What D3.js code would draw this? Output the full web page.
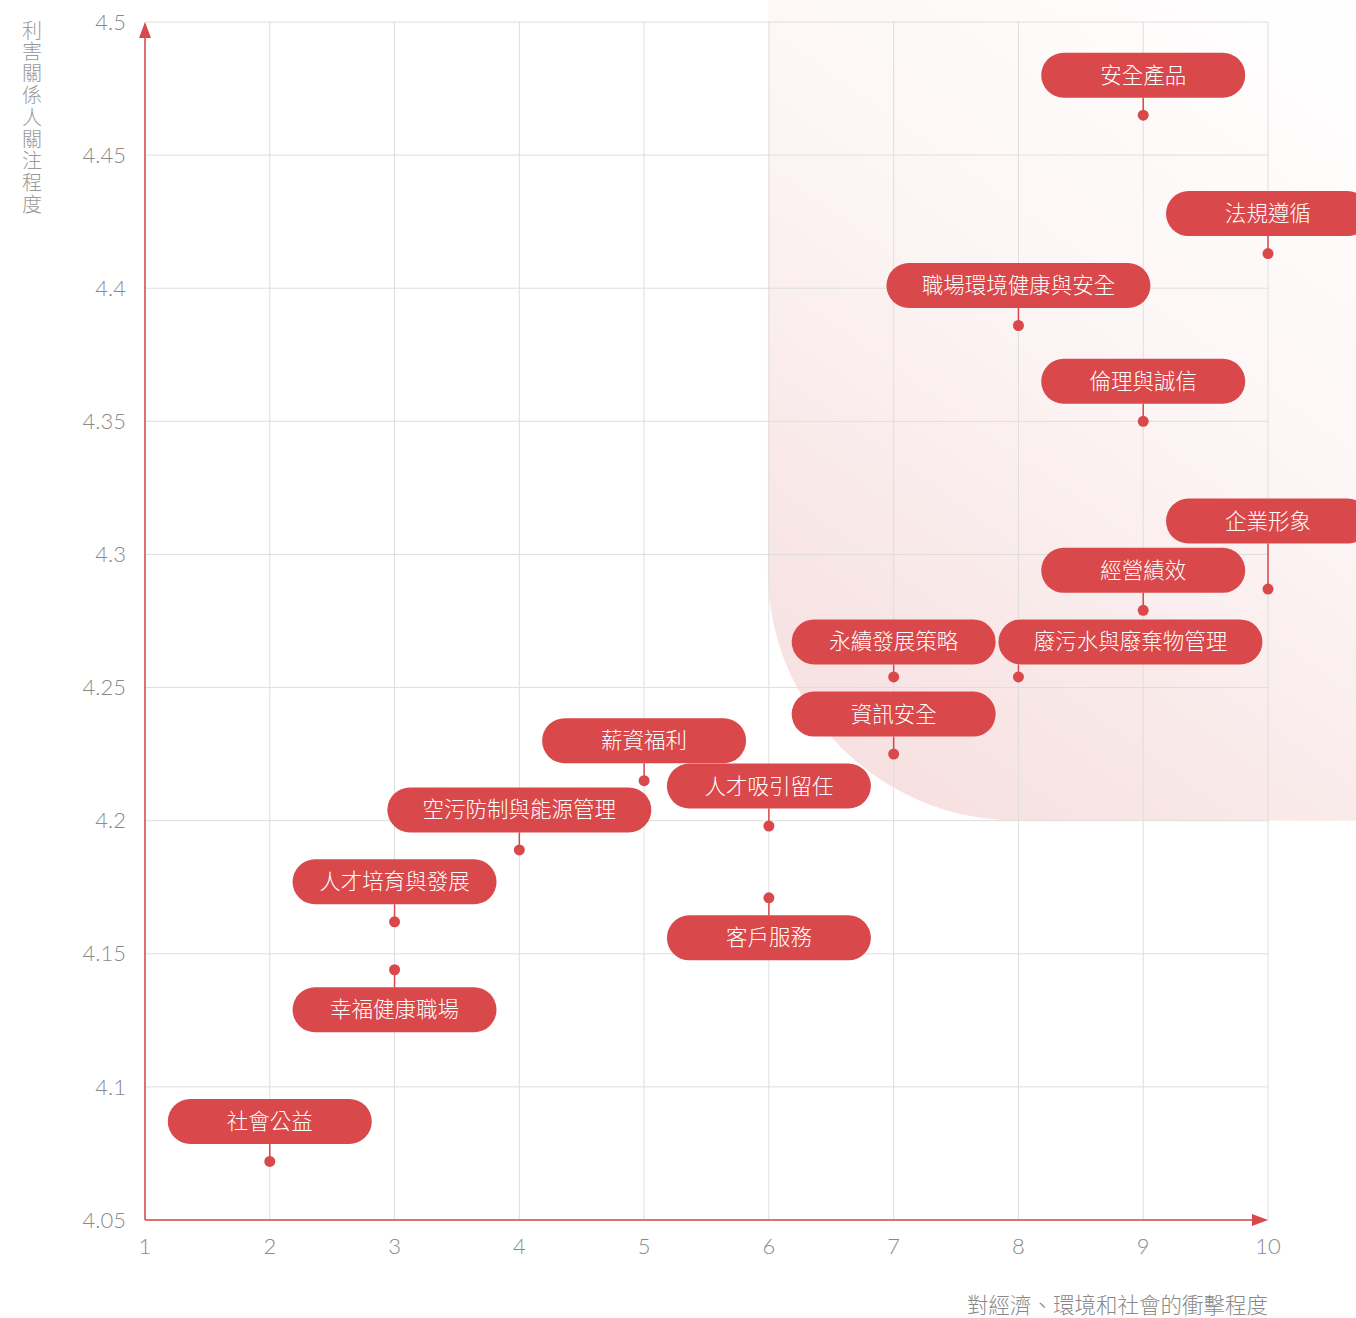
<!DOCTYPE html>
<html>
<head>
<meta charset="utf-8">
<script src="https://cdn.jsdelivr.net/npm/d3@7"></script>
<style>
  body { margin: 0; background: #fff; }
  svg { display: block; }
</style>
</head>
<body>
<div id="chart"></div>
<script>
// material topics
var topics = [
  "安全產品", "法規遵循", "職場環境健康與安全", "倫理與誠信", "企業形象",
  "經營績效", "永續發展策略", "廢污水與廢棄物管理", "資訊安全", "薪資福利",
  "人才吸引留任", "空污防制與能源管理", "人才培育與發展", "客戶服務",
  "幸福健康職場", "社會公益"
]
// 對經濟、環境和社會的衝擊程度
var impact = [9, 10, 8, 9, 10, 9, 7, 8, 7, 5, 6, 4, 3, 6, 3, 2]
// 利害關係人關注程度
var concern = [4.465, 4.413, 4.386, 4.350, 4.287, 4.279, 4.254, 4.254,
               4.225, 4.215, 4.198, 4.189, 4.162, 4.171, 4.144, 4.072]
// labels drawn under the point instead of above
var labelBelow = ["客戶服務", "幸福健康職場"]

var xTicks = [1, 2, 3, 4, 5, 6, 7, 8, 9, 10]
var yTicks = [4.05, 4.1, 4.15, 4.2, 4.25, 4.3, 4.35, 4.4, 4.45, 4.5]
var xTitle = "對經濟、環境和社會的衝擊程度"
var yTitle = "利害關係人關注程度"

var W = 1356, H = 1318
var red = "#d9484a"

var x = d3.scaleLinear().domain([1, 10]).range([145, 1268])
var y = d3.scaleLinear().domain([4.05, 4.5]).range([1220, 22])

var svg = d3.select("#chart").append("svg")
  .attr("width", W).attr("height", H)

// highlighted zone (impact >= 6, concern >= 4.2)
var zx = x(6) - 1, zy = y(4.2), r = 250

var defs = svg.append("defs")
var grad = defs.append("linearGradient").attr("id", "shade")
  .attr("gradientUnits", "userSpaceOnUse")
  .attr("x1", zx).attr("y1", zy).attr("x2", W).attr("y2", 0)
grad.append("stop").attr("offset", "0%").attr("stop-color", "#f6dcdc")
grad.append("stop").attr("offset", "30%").attr("stop-color", "#f9e9e9")
grad.append("stop").attr("offset", "60%").attr("stop-color", "#fdf6f6")
grad.append("stop").attr("offset", "100%").attr("stop-color", "#ffffff")

svg.append("path")
  .attr("d", "M" + zx + ",0 L" + W + ",0 L" + W + "," + zy +
    " L" + (zx + r) + "," + zy + " A" + r + "," + r + " 0 0 1 " + zx + "," + (zy - r) + " Z")
  .attr("fill", "url(#shade)")

// grid
svg.append("g").selectAll("line").data(xTicks).enter().append("line")
  .attr("x1", d => x(d)).attr("x2", d => x(d))
  .attr("y1", y(4.5)).attr("y2", y(4.05))
  .attr("stroke", "#dedede").attr("stroke-width", 1)
svg.append("g").selectAll("line").data(yTicks).enter().append("line")
  .attr("x1", x(1)).attr("x2", x(10))
  .attr("y1", d => y(d)).attr("y2", d => y(d))
  .attr("stroke", "#dedede").attr("stroke-width", 1)

// axes
svg.append("line").attr("x1", x(1)).attr("x2", x(10) - 10)
  .attr("y1", y(4.05)).attr("y2", y(4.05))
  .attr("stroke", red).attr("stroke-width", 1.5)
svg.append("line").attr("x1", x(1)).attr("x2", x(1))
  .attr("y1", y(4.05)).attr("y2", y(4.5) + 10)
  .attr("stroke", red).attr("stroke-width", 1.5)
svg.append("path")
  .attr("d", "M" + x(10) + "," + y(4.05) + " l-16,-6 l0,12 Z").attr("fill", red)
svg.append("path")
  .attr("d", "M" + x(1) + "," + y(4.5) + " l-6,16 l12,0 Z").attr("fill", red)

var numFont = "Lato, 'Noto Sans', sans-serif"
var cjkFont = "'Noto Sans CJK TC', 'Noto Sans CJK SC', sans-serif"

svg.append("g").selectAll("text").data(yTicks).enter().append("text")
  .attr("x", 126).attr("y", d => y(d)).attr("dy", "0.35em")
  .attr("text-anchor", "end")
  .style("font-family", numFont).style("font-weight", 300)
  .style("font-size", "22px").style("fill", "#8a8a8a")
  .text(d => d)
svg.append("g").selectAll("text").data(xTicks).enter().append("text")
  .attr("x", d => x(d)).attr("y", 1246).attr("dy", "0.35em")
  .attr("text-anchor", "middle")
  .style("font-family", numFont).style("font-weight", 300)
  .style("font-size", "22px").style("fill", "#8a8a8a")
  .text(d => d)

// titles
svg.append("text").attr("x", x(10)).attr("y", 1305).attr("dy", "0.35em")
  .attr("text-anchor", "end")
  .style("font-family", cjkFont).style("font-weight", 300)
  .style("font-size", "21.5px").style("fill", "#888")
  .text(xTitle)
svg.append("text").attr("x", 32).attr("y", 20)
  .style("writing-mode", "vertical-rl")
  .style("letter-spacing", "1.8px")
  .style("font-family", cjkFont).style("font-weight", 300)
  .style("font-size", "20px").style("fill", "#999")
  .text(yTitle)

// points + labels
var nudge = {
  "廢污水與廢棄物管理": { dx: 112, dy: -35 },
  "永續發展策略": { dx: 0, dy: -35 },
  "企業形象": { dx: 0, dy: -68 }
}
var rows = topics.map(function (t, i) {
  return { name: t, x: impact[i], y: concern[i], below: labelBelow.indexOf(t) >= 0 }
})

var g = svg.append("g").selectAll("g").data(rows).enter().append("g")

g.each(function (d) {
  var el = d3.select(this)
  var px = x(d.x), py = y(d.y)
  var w = d.name.length > 7 ? 264 : 204, h = 45
  var n = nudge[d.name] || { dx: 0, dy: d.below ? 40 : -40 }
  var cx = px + n.dx
  var cy = py + n.dy
  var edge = d.below ? cy - h / 2 : cy + h / 2
  el.append("line").attr("x1", px).attr("x2", px)
    .attr("y1", py).attr("y2", edge)
    .attr("stroke", red).attr("stroke-width", 1.5)
  el.append("rect")
    .attr("x", cx - w / 2).attr("y", cy - h / 2)
    .attr("width", w).attr("height", h)
    .attr("rx", h / 2).attr("ry", h / 2)
    .attr("fill", red)
  el.append("text").attr("x", cx).attr("y", cy).attr("dy", "0.35em")
    .attr("text-anchor", "middle")
    .style("font-family", cjkFont).style("font-weight", 300)
    .style("font-size", "21.5px").style("fill", "#fff")
    .text(d.name)
  el.append("circle").attr("cx", px).attr("cy", py).attr("r", 5.5)
    .attr("fill", red)
})
</script>
</body>
</html>
